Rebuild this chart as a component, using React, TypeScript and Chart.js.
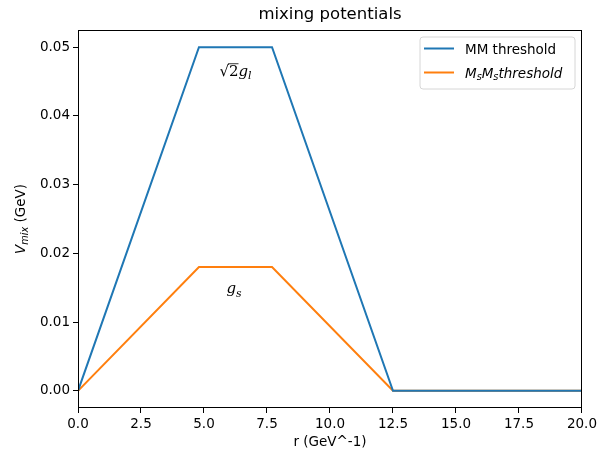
import React, { useEffect, useRef } from 'react';
import { Chart, registerables } from 'chart.js';

Chart.register(...registerables);

const rValues = [0, 4.8, 7.7, 12.5, 20];
const mmThreshold = [0, 0.05, 0.05, 0, 0];
const msThreshold = [0, 0.018, 0.018, 0, 0];
const xTicks = [0, 2.5, 5, 7.5, 10, 12.5, 15, 17.5, 20];
const yTicks = [0, 0.01, 0.02, 0.03, 0.04, 0.05];
const seriesNames = ['MM threshold', 'MsMs threshold'];
const seriesColors = ['#1f77b4', '#ff7f0e'];
const titleText = 'mixing potentials';
const xTitle = 'r (GeV^-1)';
const annotationX = [6.25, 6.19];
const annotationY = [0.0458, 0.0142];

const SANS = '"DejaVu Sans", sans-serif';
const SERIF = '"DejaVu Serif", serif';

type Seg = { t: string; italic?: boolean; sub?: boolean; family?: string; overline?: boolean };

function segFont(s: Seg, size: number) {
  const sz = s.sub ? size * 0.72 : size;
  return `${s.italic ? 'italic ' : ''}${sz}px ${s.family || SANS}`;
}

function measureRich(ctx: CanvasRenderingContext2D, segs: Seg[], size: number) {
  let w = 0;
  for (const s of segs) {
    ctx.font = segFont(s, size);
    w += ctx.measureText(s.t).width;
  }
  return w;
}

function drawRich(ctx: CanvasRenderingContext2D, segs: Seg[], size: number, x: number, y: number, color: string) {
  let cx = x;
  ctx.fillStyle = color;
  ctx.textBaseline = 'alphabetic';
  ctx.textAlign = 'left';
  for (const s of segs) {
    ctx.font = segFont(s, size);
    const w = ctx.measureText(s.t).width;
    const yy = s.sub ? y + size * 0.22 : y;
    ctx.fillText(s.t, cx, yy);
    if (s.overline) {
      ctx.save();
      ctx.strokeStyle = color;
      ctx.lineWidth = 0.8;
      ctx.beginPath();
      ctx.moveTo(cx - 1, yy - size * 0.82);
      ctx.lineTo(cx + w, yy - size * 0.82);
      ctx.stroke();
      ctx.restore();
    }
    cx += w;
  }
}

const legendRich: Seg[][] = [
  [{ t: seriesNames[0] }],
  [
    { t: 'M', italic: true },
    { t: 's', italic: true, sub: true },
    { t: 'M', italic: true },
    { t: 's', italic: true, sub: true },
    { t: 'threshold', italic: true },
  ],
];

const annotationRich: Seg[][] = [
  [
    { t: '\u221A', family: SERIF },
    { t: '2', family: SERIF, overline: true },
    { t: 'g', italic: true, family: SERIF },
    { t: 'l', italic: true, sub: true, family: SERIF },
  ],
  [
    { t: 'g', italic: true, family: SERIF },
    { t: 's', italic: true, sub: true, family: SERIF },
  ],
];

const decorPlugin = {
  id: 'decor',
  afterDatasetsDraw(chart: any) {
    const ctx: CanvasRenderingContext2D = chart.ctx;
    const xs = chart.scales.x;
    const ys = chart.scales.y;
    const { left, right, top, bottom } = chart.chartArea;
    ctx.save();
    annotationRich.forEach((segs, i) => {
      const px = xs.getPixelForValue(annotationX[i]);
      const py = ys.getPixelForValue(annotationY[i]);
      const w = measureRich(ctx, segs, 15);
      drawRich(ctx, segs, 15, px - w / 2, py, '#000');
    });
    ctx.strokeStyle = '#000';
    ctx.lineWidth = 1;
    ctx.strokeRect(Math.round(left) + 0.5, Math.round(top) + 0.5, Math.round(right - left) - 1, Math.round(bottom - top) - 1);
    ctx.fillStyle = '#000';
    ctx.font = `16.5px ${SANS}`;
    ctx.textAlign = 'center';
    ctx.textBaseline = 'alphabetic';
    ctx.fillText(titleText, (left + right) / 2, 19);
    ctx.font = `13.5px ${SANS}`;
    ctx.fillText(xTitle, (left + right) / 2, 446);
    ctx.save();
    ctx.translate(25, (top + bottom) / 2);
    ctx.rotate(-Math.PI / 2);
    const ySegs: Seg[] = [
      { t: 'V', italic: true },
      { t: 'mix', italic: true, sub: true },
      { t: ' (GeV)' },
    ];
    const yw = measureRich(ctx, ySegs, 13.5);
    drawRich(ctx, ySegs, 13.5, -yw / 2, 0, '#000');
    ctx.restore();
    const bx = 420, by = 37, bw = 155, bh = 52, r = 3;
    ctx.beginPath();
    ctx.moveTo(bx + r, by);
    ctx.arcTo(bx + bw, by, bx + bw, by + bh, r);
    ctx.arcTo(bx + bw, by + bh, bx, by + bh, r);
    ctx.arcTo(bx, by + bh, bx, by, r);
    ctx.arcTo(bx, by, bx + bw, by, r);
    ctx.closePath();
    ctx.fillStyle = 'rgba(255,255,255,0.8)';
    ctx.fill();
    ctx.strokeStyle = '#d6d6d6';
    ctx.lineWidth = 1;
    ctx.stroke();
    legendRich.forEach((segs, i) => {
      const ly = 48.5 + i * 24;
      ctx.strokeStyle = seriesColors[i];
      ctx.lineWidth = 2;
      ctx.beginPath();
      ctx.moveTo(424, ly);
      ctx.lineTo(454, ly);
      ctx.stroke();
      drawRich(ctx, segs, 13.5, 465, ly + 5, '#000');
    });
    ctx.restore();
  },
};

export default function App() {
  const ref = useRef<HTMLCanvasElement | null>(null);
  useEffect(() => {
    document.body.style.margin = '0';
    if (!ref.current) return;
    const chart = new Chart(ref.current, {
      type: 'line',
      data: {
        datasets: [
          {
            label: seriesNames[0],
            data: rValues.map((x, i) => ({ x, y: mmThreshold[i] })),
            borderColor: seriesColors[0],
            backgroundColor: seriesColors[0],
            borderWidth: 2,
            pointRadius: 0,
            tension: 0,
          },
          {
            label: seriesNames[1],
            data: rValues.map((x, i) => ({ x, y: msThreshold[i] })),
            borderColor: seriesColors[1],
            backgroundColor: seriesColors[1],
            borderWidth: 2,
            pointRadius: 0,
            tension: 0,
          },
        ],
      },
      options: {
        animation: false,
        responsive: false,
        layout: { padding: { top: 30, right: 18, bottom: 0, left: 0 } },
        plugins: { legend: { display: false }, title: { display: false }, tooltip: { enabled: false } },
        scales: {
          x: {
            type: 'linear',
            min: 0,
            max: 20,
            afterFit: (s: any) => { s.height = 44; },
            afterBuildTicks: (s: any) => { s.ticks = xTicks.map((v) => ({ value: v })); },
            ticks: {
              color: '#000',
              font: { family: SANS, size: 13.5 },
              padding: 3,
              maxRotation: 0,
              autoSkip: false,
              callback: (v: any) => Number(v).toFixed(1),
            },
            grid: { drawOnChartArea: false, drawTicks: true, tickLength: 5, color: '#000' },
            border: { display: false },
          },
          y: {
            type: 'linear',
            min: -0.0025,
            max: 0.0525,
            afterFit: (s: any) => { s.width = 78; },
            afterBuildTicks: (s: any) => { s.ticks = yTicks.map((v) => ({ value: v })); },
            ticks: {
              color: '#000',
              font: { family: SANS, size: 13.5 },
              padding: 3,
              autoSkip: false,
              callback: (v: any) => Number(v).toFixed(2),
            },
            grid: { drawOnChartArea: false, drawTicks: true, tickLength: 5, color: '#000' },
            border: { display: false },
          },
        },
      } as any,
      plugins: [decorPlugin],
    });
    return () => chart.destroy();
  }, []);
  return <canvas ref={ref} width={600} height={452} style={{ display: 'block' }} />;
}
